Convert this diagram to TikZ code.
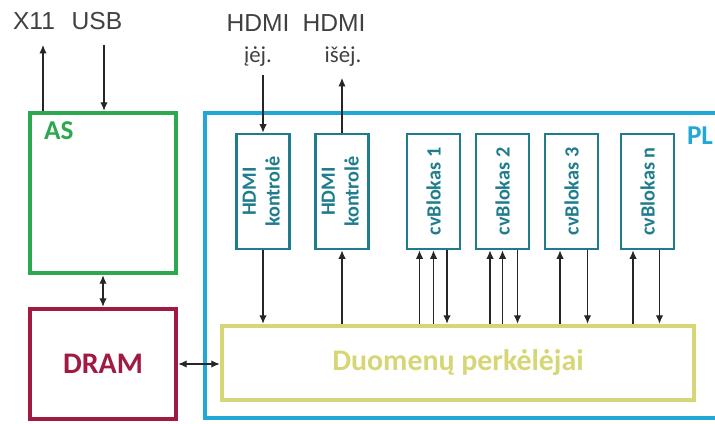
\documentclass[tikz,border=0pt]{standalone}
\usepackage{fontspec}
\setmainfont{Carlito}
\newfontfamily\arialfont{Liberation Sans}
\usepackage{graphicx}
\usetikzlibrary{positioning, arrows.meta, calc}

\definecolor{asgreen}{RGB}{44,168,78}
\definecolor{dramred}{RGB}{160,26,66}
\definecolor{plblue}{RGB}{33,168,214}
\definecolor{cvteal}{RGB}{30,124,140}
\definecolor{duomyellow}{RGB}{214,214,118}
\definecolor{labelgray}{RGB}{64,64,64}

\begin{document}
\begin{tikzpicture}
		% Estilos de bloques y flechas
		\tikzset{
			bigbox/.style={
					rectangle, draw, line width=2.6pt, inner sep=0pt,
					font=\fontsize{17}{19}\selectfont\bfseries
				},
			cvbox/.style={
					rectangle, draw=cvteal, line width=1.6pt, inner sep=0pt,
					minimum width=1.06cm, minimum height=2.3cm,
					text=cvteal, font=\fontsize{11.5}{13.5}\selectfont\bfseries
				},
			arr/.style={
					-{Latex[length=4.8pt,width=4.2pt]}, line width=0.6pt, black!85
				},
			dblarr/.style={
					{Latex[length=4.8pt,width=4.2pt]}-{Latex[length=4.8pt,width=4.2pt]},
					line width=0.6pt, black!85
				},
			toplabel/.style={
					font=\arialfont\fontsize{14}{16}\selectfont, text=labelgray,
					anchor=base, inner sep=0pt
				},
			sublabel/.style={
					font=\fontsize{13}{15}\selectfont, text=labelgray,
					anchor=base, inner sep=0pt
				}
		}
		\useasboundingbox (0,0) rectangle (14.3,8.46);

		% Bloques principales
		\node[bigbox, draw=plblue, minimum width=11.1cm, minimum height=6.1cm] (pl) at (9.65,3.15) {};
		\node[font=\fontsize{15.5}{17}\selectfont\bfseries, text=plblue, inner sep=0pt] (pltxt) at (14.0,5.74) {PL};
		\node[bigbox, draw=asgreen, minimum width=2.92cm, minimum height=3.2cm] (as) at (2.06,4.6) {};
		\node[anchor=north west, inner sep=0pt, text=asgreen, font=\fontsize{15.5}{17}\selectfont\bfseries]
			(astxt) at ([xshift=0.32cm,yshift=-0.22cm]as.north west) {AS};
		\node[bigbox, draw=dramred, text=dramred, minimum width=2.92cm, minimum height=2.2cm] (dram) at (2.06,1.18) {DRAM};
		\node[bigbox, draw=duomyellow, text=duomyellow, minimum width=9.44cm, minimum height=1.48cm] (duom) at (9.16,1.2) {Duomenų perkėlėjai};

		% Blokai PL viduje
		\node[cvbox] (hdmiA) at (5.26,4.63) {\rotatebox{90}{\begin{tabular}{@{}c@{}}HDMI\\kontrolė\end{tabular}}};
		\node[cvbox] (hdmiB) at (6.84,4.63) {\rotatebox{90}{\begin{tabular}{@{}c@{}}HDMI\\kontrolė\end{tabular}}};
		\node[cvbox] (cv1) at (8.67,4.63) {\rotatebox{90}{cvBlokas 1}};
		\node[cvbox] (cv2) at (10.05,4.63) {\rotatebox{90}{cvBlokas 2}};
		\node[cvbox] (cv3) at (11.43,4.63) {\rotatebox{90}{cvBlokas 3}};
		\node[cvbox] (cvn) at (12.95,4.63) {\rotatebox{90}{cvBlokas n}};

		% Išorinės sąsajos
		\node[toplabel] (x11) at (0.68,7.86) {X11};
		\node[toplabel] (usb) at (1.94,7.86) {USB};
		\node[toplabel] (hdmiin) at (5.16,7.82) {HDMI};
		\node[toplabel] (hdmiout) at (6.68,7.82) {HDMI};
		\node[sublabel] (inlbl) at (5.16,7.2) {įėj.};
		\node[sublabel] (outlbl) at (6.86,7.2) {išėj.};
		\coordinate (x11end) at (0.86,7.56);
		\coordinate (usbend) at (2.08,7.56);
		\coordinate (inend) at (5.26,6.96);
		\coordinate (outend) at (6.84,6.9);

		% Flechas
		\draw[arr] (x11end |- as.north) -- (x11end);
		\draw[arr] (usbend) -- (usbend |- as.north);
		\draw[arr] (inend) -- (hdmiA.north);
		\draw[arr] (hdmiB.north) -- (outend);
		\draw[dblarr] (as.south) -- (dram.north);
		\draw[dblarr] (dram.east) -- (dram.east -| duom.west);
		\foreach \blk/\dx in {hdmiA/0, cv1/0.27, cv2/0.3, cv3/0.32, cvn/0.24} {
				\draw[arr] ([xshift=\dx cm]\blk.south) -- ([xshift=\dx cm]\blk.south |- duom.north);
			}
		\foreach \blk/\dx in {hdmiB/0, cv1/-0.28, cv1/0, cv2/-0.25, cv2/0, cv3/-0.23, cvn/-0.29} {
				\draw[arr] ([xshift=\dx cm]\blk.south |- duom.north) -- ([xshift=\dx cm]\blk.south);
			}
	\end{tikzpicture}
\end{document}
